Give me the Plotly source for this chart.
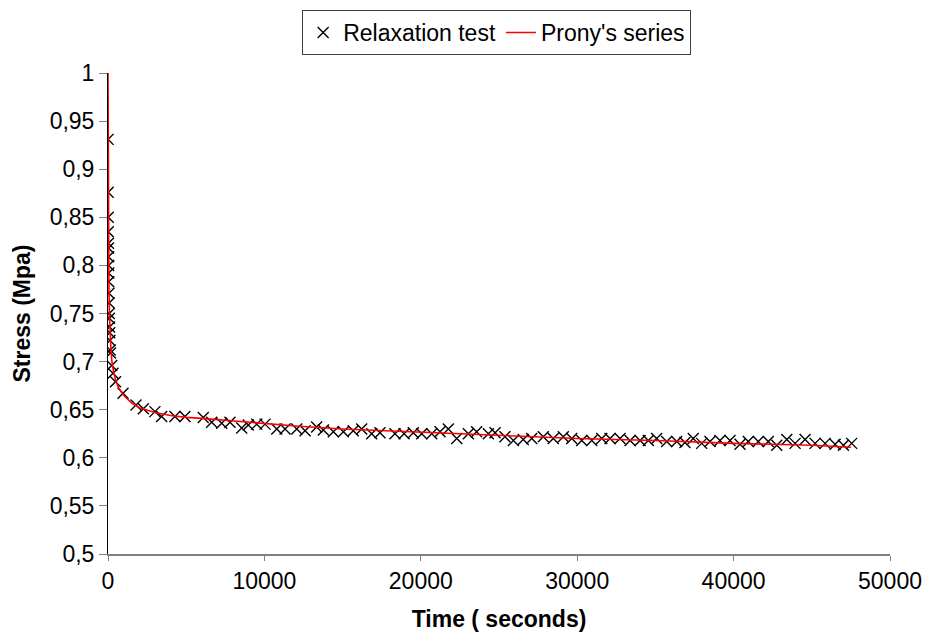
import plotly.graph_objects as go

# Relaxation test measurements (time in s, stress in MPa)
test_time = [5, 10, 15, 20, 25, 30, 35, 40, 45, 50, 60, 70, 80, 90, 100, 110, 120, 140, 160,
             240, 320, 480, 960, 1790, 2260, 3000, 3430, 4280, 4920, 6090, 6630, 7270, 7800,
             8550, 8970, 9510, 10040, 10790, 11320, 12070, 12600, 13340, 13770, 14410, 15050,
             15680, 16220, 16860, 17390, 18350, 18930, 19520, 20060, 20700, 21230, 21760,
             22300, 23040, 23570, 24320, 24750, 25380, 25920, 26550, 27090, 27830, 28470,
             29110, 29650, 30290, 30930, 31570, 32100, 32740, 33380, 34020, 34550, 35080,
             35720, 36360, 36890, 37420, 37960, 38490, 39130, 39770, 40410, 40940, 41580,
             42220, 42760, 43400, 43930, 44570, 45210, 45850, 46490, 47020, 47550]
test_stress = [0.931, 0.876, 0.850, 0.835, 0.823, 0.818, 0.809, 0.800, 0.792, 0.783, 0.771,
               0.761, 0.750, 0.745, 0.736, 0.730, 0.722, 0.712, 0.709, 0.696, 0.688, 0.679,
               0.667, 0.655, 0.651, 0.648, 0.643, 0.643, 0.643, 0.642, 0.637, 0.636, 0.637,
               0.631, 0.634, 0.635, 0.635, 0.630, 0.630, 0.630, 0.628, 0.632, 0.629, 0.627,
               0.627, 0.628, 0.630, 0.625, 0.626, 0.625, 0.625, 0.626, 0.625, 0.625, 0.627,
               0.630, 0.620, 0.625, 0.627, 0.625, 0.626, 0.622, 0.618, 0.619, 0.620, 0.622,
               0.620, 0.622, 0.620, 0.618, 0.618, 0.620, 0.620, 0.620, 0.618, 0.618, 0.618,
               0.620, 0.617, 0.617, 0.616, 0.620, 0.615, 0.617, 0.618, 0.618, 0.614, 0.617,
               0.617, 0.617, 0.613, 0.619, 0.615, 0.619, 0.615, 0.615, 0.614, 0.613, 0.615]

# Prony's series fit
prony_time = [0, 3, 8, 15, 25, 40, 60, 90, 130, 180, 250, 350, 500, 700, 1000, 1500, 2000,
              3000, 4000, 5000, 6000, 9000, 12000, 15000, 18000, 21000, 25000, 30000, 35000,
              40000, 45000, 47500]
prony_stress = [1.0, 0.96, 0.90, 0.86, 0.83, 0.80, 0.775, 0.75, 0.73, 0.715, 0.70, 0.69,
                0.68, 0.672, 0.665, 0.657, 0.652, 0.647, 0.644, 0.642, 0.641, 0.637, 0.633,
                0.630, 0.628, 0.626, 0.623, 0.620, 0.618, 0.615, 0.613, 0.611]

y_ticks = [0.5, 0.55, 0.6, 0.65, 0.7, 0.75, 0.8, 0.85, 0.9, 0.95, 1.0]
y_tick_labels = ["0,5", "0,55", "0,6", "0,65", "0,7", "0,75", "0,8", "0,85", "0,9", "0,95", "1"]
x_ticks = [0, 10000, 20000, 30000, 40000, 50000]
x_tick_labels = ["0", "10000", "20000", "30000", "40000", "50000"]

FONT = "Liberation Sans, Arial, sans-serif"

fig = go.Figure()
fig.add_trace(go.Scatter(
    x=test_time, y=test_stress, mode="markers", name="Relaxation test",
    marker=dict(symbol="x-thin", size=11, color="black",
                line=dict(color="black", width=1.4)),
))
fig.add_trace(go.Scatter(
    x=prony_time, y=prony_stress, mode="lines", name="Prony's series",
    line=dict(color="#ff0000", width=1.6),
))

fig.update_layout(
    width=930, height=644,
    margin=dict(l=100, r=48, t=65, b=98, autoexpand=False),
    paper_bgcolor="white", plot_bgcolor="white",
    font=dict(family=FONT, size=23, color="black"),
    showlegend=True,
    legend=dict(
        orientation="h", x=0.497, xanchor="center",
        y=1.131, yanchor="top",
        bordercolor="#404040", borderwidth=1, bgcolor="white",
        font=dict(family=FONT, size=23, color="black"),
        itemwidth=30, tracegroupgap=0,
    ),
    xaxis=dict(
        range=[0, 50000], tickvals=x_ticks, ticktext=x_tick_labels,
        showgrid=False, zeroline=False, showline=True,
        linecolor="#808080", linewidth=2,
        ticks="outside", ticklen=5, tickcolor="#808080", tickwidth=1,
        tickfont=dict(family=FONT, size=23),
        title=dict(text="Time ( seconds)", font=dict(family=FONT, size=23, weight="bold"),
                   standoff=18),
    ),
    yaxis=dict(
        range=[0.5, 1.0], tickvals=y_ticks, ticktext=y_tick_labels,
        showgrid=False, zeroline=False, showline=True,
        linecolor="black", linewidth=1,
        ticks="outside", ticklen=8, tickcolor="#808080", tickwidth=1,
        tickfont=dict(family=FONT, size=23),
        title=dict(text="Stress (Mpa)", font=dict(family=FONT, size=23, weight="bold"),
                   standoff=12),
    ),
)

fig.write_html("out.html")
